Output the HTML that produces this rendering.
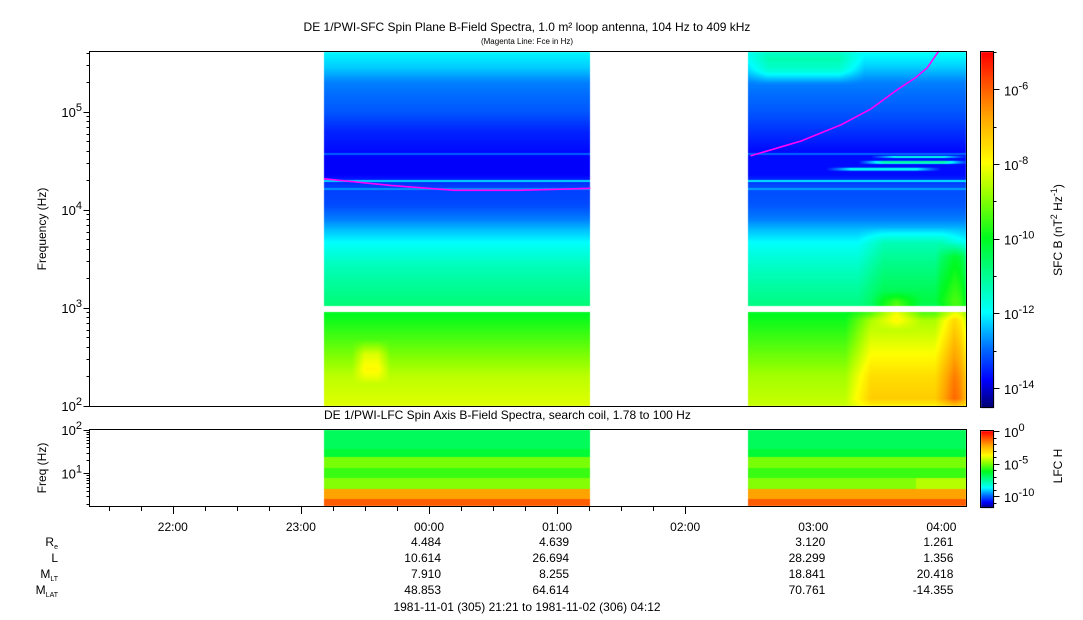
<!DOCTYPE html>
<html><head><meta charset="utf-8">
<style>
html,body{margin:0;padding:0;background:#fff;}
body{width:1083px;height:620px;position:relative;overflow:hidden;font-family:"Liberation Sans",sans-serif;}
canvas{position:absolute;left:0;top:0;}
svg{position:absolute;left:0;top:0;}
</style></head>
<body>
<canvas id="cv" width="1083" height="620"></canvas>
<svg id="sv" width="1083" height="620" font-family="Liberation Sans, sans-serif"></svg>
<script>
// ---- data arrays ----
const timeTicks = [-2, -1, 0, 1, 2, 3, 4];               // hours relative to 00:00
const timeTickLabels = ["22:00","23:00","00:00","01:00","02:00","03:00","04:00"];
const ephemRows = ["Re","L","MLT","MLAT"];
const ephemTimes = [0, 1, 3, 4];
const ephemRe = ["4.484","4.639","3.120","1.261"];
const ephemL = ["10.614","26.694","28.299","1.356"];
const ephemMLT = ["7.910","8.255","18.841","20.418"];
const ephemMLAT = ["48.853","64.614","70.761","-14.355"];
const segments = [[-0.82, 1.26], [2.49, 4.2]];            // data coverage (hours)
// SFC intensity profile (log10 nT^2/Hz) vs log10 frequency
const profLf  = [2.0, 2.3, 2.6, 2.95, 3.0, 3.2, 3.45, 3.65, 3.8, 3.9, 4.05, 4.25, 4.36, 4.5, 4.6, 4.8, 5.0, 5.3, 5.45, 5.61];
const profV1  = [-8.2,-8.5,-9.2,-10.0,-10.7,-11.0,-11.4,-11.9,-12.4,-12.8,-13.2,-13.3,-13.8,-13.8,-13.7,-13.5,-13.1,-12.8,-12.3,-12.0];
const profV2  = [-8.4,-8.7,-9.3,-10.0,-10.8,-11.1,-11.5,-11.9,-12.4,-12.8,-13.1,-13.2,-13.7,-13.7,-13.7,-13.4,-13.1,-12.8,-12.3,-11.9];
// narrow-band lines: log f, added intensity
const lineLf  = [4.297, 4.57, 4.215];
const lineAdd = [1.3, 0.7, 0.6];
// enhancements: t0,t1 (h), lf0,lf1, add
const burstT0 = [3.35, 3.55, 4.05, 2.55, 3.45, 3.45, 3.2, -0.55, 3.55];
const burstT1 = [4.20, 3.75, 4.20, 3.30, 4.10, 4.12, 3.9, -0.35, 4.1];
const burstF0 = [2.0, 2.85, 2.0, 5.35, 3.0, 4.47, 4.40, 2.3, 4.53];
const burstF1 = [2.95, 3.1, 3.6, 5.61, 3.75, 4.50, 4.43, 2.6, 4.55];
const burstA  = [1.2, 1.2, 1.6, 0.8, 0.6, 2.5, 1.8, 0.8, 2.0];
// Fce (magenta) line
const fceT1 = [-0.82, -0.3, 0.2, 0.7, 1.0, 1.26];
const fceF1 = [4.317, 4.25, 4.20, 4.20, 4.21, 4.22];
const fceT2 = [2.51, 2.9, 3.22, 3.45, 3.66, 3.8, 3.89, 3.98];
const fceF2 = [4.55, 4.70, 4.87, 5.03, 5.23, 5.35, 5.45, 5.62];
// LFC band values (log10) with lower log-f edges
const lfcEdge = [1.56, 1.38, 1.12, 0.89, 0.64, 0.41, 0.0];
const lfcV    = [-6.8, -6.4, -5.0, -5.6, -4.9, -2.1, -1.2];

// ---- geometry ----
const XPH = 128.1, T00 = 429;
const xT = t => T00 + XPH * t;
const tX = x => (x - T00) / XPH;
const M = {top:52, bot:406, lfTop:5.61, lfBot:2.0};
const yM = lf => M.bot - (lf - M.lfBot) / (M.lfTop - M.lfBot) * (M.bot - M.top);
const L = {top:430, bot:506, lfTop:2.0, lfBot:0.25};
const yL = lf => L.bot - (lf - L.lfBot) / (L.lfTop - L.lfBot) * (L.bot - L.top);
const PX0 = 89, PX1 = 966;

function interp(xs, ys, x){
  if (x <= xs[0]) return ys[0];
  for (let i=1;i<xs.length;i++){ if (x <= xs[i]) { const f=(x-xs[i-1])/(xs[i]-xs[i-1]); return ys[i-1]+f*(ys[i]-ys[i-1]); } }
  return ys[ys.length-1];
}
function jet(n){
  n=Math.max(0,Math.min(1,n));
  const st=[[0,0,0,110],[0.08,0,0,255],[0.17,0,110,255],[0.27,0,255,255],[0.48,0,250,30],[0.6,150,255,0],[0.69,255,255,0],[0.82,255,165,0],[1,255,0,0]];
  for(let i=1;i<st.length;i++){ if(n<=st[i][0]){ const a=st[i-1],b=st[i],f=(n-a[0])/(b[0]-a[0]); return [a[1]+f*(b[1]-a[1]),a[2]+f*(b[2]-a[2]),a[3]+f*(b[3]-a[3])]; } }
  return [255,0,0];
}
function soft(x,a,b,w){ return Math.max(0,Math.min(1,(x-a)/w+0.5))*Math.max(0,Math.min(1,(b-x)/w+0.5)); }
function sfc(t, lf, seg){
  let v = interp(profLf, seg===0?profV1:profV2, lf);
  for (let i=0;i<lineLf.length;i++){ if (Math.abs(lf-lineLf[i])<0.012) v += lineAdd[i]; }
  if (seg===1) { for (let i=0;i<burstT0.length;i++) { if (i===7) continue; const w = (burstF1[i]-burstF0[i])<0.05 ? 0.01 : 0.15; v += burstA[i]*soft(t,burstT0[i],burstT1[i],0.2)*soft(lf,burstF0[i],burstF1[i],w); } }
  else { const i=7; v += burstA[i]*soft(t,burstT0[i],burstT1[i],0.1)*soft(lf,burstF0[i],burstF1[i],0.15); }
  return v;
}
function lfcVal(lf){ for (let i=0;i<lfcEdge.length;i++){ if (lf>=lfcEdge[i]) return lfcV[i]; } return lfcV[lfcV.length-1]; }

const cv = document.getElementById('cv'), ctx = cv.getContext('2d');
const img = ctx.createImageData(1083, 620);
function put(x,y,c){ const k=(y*1083+x)*4; img.data[k]=c[0]; img.data[k+1]=c[1]; img.data[k+2]=c[2]; img.data[k+3]=255; }
for (let k=0;k<img.data.length;k+=4){img.data[k]=255;img.data[k+1]=255;img.data[k+2]=255;img.data[k+3]=255;}
for (let x=PX0; x<PX1; x++){
  const t = tX(x+0.5);
  let seg=-1; segments.forEach((s,i)=>{ if(t>=s[0]&&t<=s[1]) seg=i; });
  if (seg<0) continue;
  for (let y=M.top; y<M.bot; y++){
    if (y>=306 && y<312) continue;
    const lf = M.lfBot + (M.bot - (y+0.5)) / (M.bot-M.top) * (M.lfTop-M.lfBot);
    const v = sfc(t, lf, seg);
    put(x,y,jet((v+14.54)/9.54));
  }
  for (let y=L.top; y<L.bot; y++){
    const lf = L.lfBot + (L.bot-(y+0.5))/(L.bot-L.top)*(L.lfTop-L.lfBot);
    let v = lfcVal(lf);
    if (seg===1 && t>3.8 && lf>0.64 && lf<0.89) v += 0.5;
    put(x,y,jet((v+11.8)/11.8));
  }
}
// colorbars
for (let y=52;y<408;y++){ const n=(408-y)/(408-52); const c=jet(n); for(let x=981;x<994;x++) put(x,y,c); }
for (let y=431;y<508;y++){ const n=(508-y)/(508-431); const c=jet(n); for(let x=981;x<994;x++) put(x,y,c); }
ctx.putImageData(img,0,0);

// ---- SVG overlay ----
const NS='http://www.w3.org/2000/svg', sv=document.getElementById('sv');
function el(tag, attrs, parent){ const e=document.createElementNS(NS,tag); for(const k in attrs) e.setAttribute(k,attrs[k]); (parent||sv).appendChild(e); return e; }
function txt(x,y,s,size,anchor,name,extra){
  const e=el('text',Object.assign({x:x,y:y,'font-size':size,'text-anchor':anchor||'start',fill:'#000'},extra||{}));
  e.textContent=s;
  
  
  return e;
}
function pow10(x,y,exp,name,anchor){
  const g=el('text',{x:x,y:y,'font-size':13,'text-anchor':anchor||'end',fill:'#000'});
  
  
  const a=el('tspan',{},g); a.textContent='10';
  const b=el('tspan',{dy:-6,'font-size':11},g); b.textContent=exp;
  return g;
}
// Fce lines
[[fceT1,fceF1],[fceT2,fceF2]].forEach((p,i)=>{
  const pts=p[0].map((t,j)=>xT(t).toFixed(1)+','+yM(p[1][j]).toFixed(1)).join(' ');
  const pl=el('polyline',{points:pts,fill:'none',stroke:'#ff00ff','stroke-width':1.6});
  
  
});
// frames
const f1=el('rect',{x:89.5,y:51.5,width:877,height:355,fill:'none',stroke:'#000','stroke-width':1});
 
const f2=el('rect',{x:89.5,y:429.5,width:877,height:77,fill:'none',stroke:'#000','stroke-width':1});
 
// y ticks main
for (let d=2; d<=5; d++){
  for (let m=1; m<=9; m++){
    const lf=d+Math.log10(m); if (lf>M.lfTop) break;
    const y=Math.round(yM(lf))+0.5;
    el('line',{x1:89.5-(m===1?6:3),x2:89.5,y1:y,y2:y,stroke:'#000'});
  }
  pow10(82, yM(d)+5, String(d), 'y-tick-label-1e'+d);
}
// y ticks lfc
for (let d=0; d<=2; d++){
  for (let m=1; m<=9; m++){
    const lf=d+Math.log10(m); if (lf>L.lfTop) break; if (lf<L.lfBot) continue;
    const y=Math.round(yL(lf))+0.5;
    el('line',{x1:89.5-(m===1?6:3),x2:89.5,y1:y,y2:y,stroke:'#000'});
  }
}
pow10(82, yL(2)+5, '2', 'lfc-y-tick-1e2'); pow10(82, yL(1)+5, '1', 'lfc-y-tick-1e1');
// x ticks
for (let q=-5; q<=16; q++){
  const t=-1.5+q*0.25-0.5; const x=Math.round(xT(t))+0.5;
  if (x<90||x>966) continue;
  const major = Math.abs(t-Math.round(t))<1e-6;
  el('line',{x1:x,x2:x,y1:507,y2:major?514:511,stroke:'#000'});
}
timeTicks.forEach((t,i)=>{ txt(xT(t), 531, timeTickLabels[i], 12, 'middle', 'x-tick-label-'+timeTickLabels[i].replace(':','')); });
// ephemeris
const rowY=[546,562,578,594];
const rowData=[ephemRe,ephemL,ephemMLT,ephemMLAT];
const subs=['e','','LT','LAT'], mains=['R','L','M','M'];
rowY.forEach((y,r)=>{
  const g=el('text',{x:58,y:y,'font-size':12,'text-anchor':'end',fill:'#000'});
   
  const a=el('tspan',{},g); a.textContent=mains[r];
  if (subs[r]) { const b=el('tspan',{'font-size':7,dy:3},g); b.textContent=subs[r]; }
  rowData[r].forEach((v,i)=>{ txt(xT(ephemTimes[i])+12, y, v, 12, 'end', 'ephem-'+ephemRows[r]+'-'+i); });
});
txt(527, 611, '1981-11-01 (305) 21:21 to 1981-11-02 (306) 04:12', 12, 'middle', 'date-range');
// titles
txt(527, 31, 'DE 1/PWI-SFC  Spin Plane B-Field Spectra, 1.0 m\u00B2 loop antenna, 104 Hz to 409 kHz', 12, 'middle', 'main-title');
txt(527, 44, '(Magenta Line: Fce in Hz)', 8, 'middle', 'subtitle');
txt(324, 419, 'DE 1/PWI-LFC  Spin Axis B-Field Spectra, search coil, 1.78 to 100 Hz', 12, 'start', 'lfc-title');
txt(0,0,'Frequency (Hz)',12,'middle','y-axis-title',{transform:'translate(46,229) rotate(-90)'});
txt(0,0,'Freq (Hz)',12,'middle','lfc-y-axis-title',{transform:'translate(46,468) rotate(-90)'});
// colorbars frames/ticks
const cb1=el('rect',{x:980.5,y:51.5,width:13,height:356,fill:'none',stroke:'#000'});
 
const cb2=el('rect',{x:980.5,y:430.5,width:13,height:77,fill:'none',stroke:'#000'});
 
const cbExp=[-6,-8,-10,-12,-14];
const yCb = v => 89.4 + (-6 - v) * 37.3;
for (let v=-5; v>=-14.5; v-=1){ const y=Math.round(yCb(v))+0.5; if(y<52||y>407) continue; const maj=cbExp.includes(v); el('line',{x1:993.5,x2:993.5+(maj?6:3),y1:y,y2:y,stroke:'#000'}); }
cbExp.forEach(v=>{ pow10(1004, yCb(v)+6, String(v), 'sfc-colorbar-tick'+v, 'start'); });
const lfcExp=[0,-5,-10];
const yCb2 = v => 431 + (-v)*6.5;
for (let v=0; v>=-11; v--){ const y=Math.round(yCb2(v))+0.5; el('line',{x1:993.5,x2:993.5+(v%5===0?6:3),y1:y,y2:y,stroke:'#000'}); }
lfcExp.forEach(v=>{ pow10(1004, yCb2(v)+6, String(v), 'lfc-colorbar-tick'+v, 'start'); });
const cbt=el('text',{transform:'translate(1062,230) rotate(-90)','font-size':12,'text-anchor':'middle',fill:'#000'});
 
const t1=el('tspan',{},cbt); t1.textContent='SFC B (nT';
const t2=el('tspan',{dy:-5,'font-size':9},cbt); t2.textContent='2';
const t3=el('tspan',{dy:5},cbt); t3.textContent=' Hz';
const t4=el('tspan',{dy:-5,'font-size':9},cbt); t4.textContent='-1';
const t5=el('tspan',{dy:5},cbt); t5.textContent=')';
txt(0,0,'LFC H',12,'middle','lfc-colorbar-title',{transform:'translate(1062,466) rotate(-90)'});
</script>
</body></html>
